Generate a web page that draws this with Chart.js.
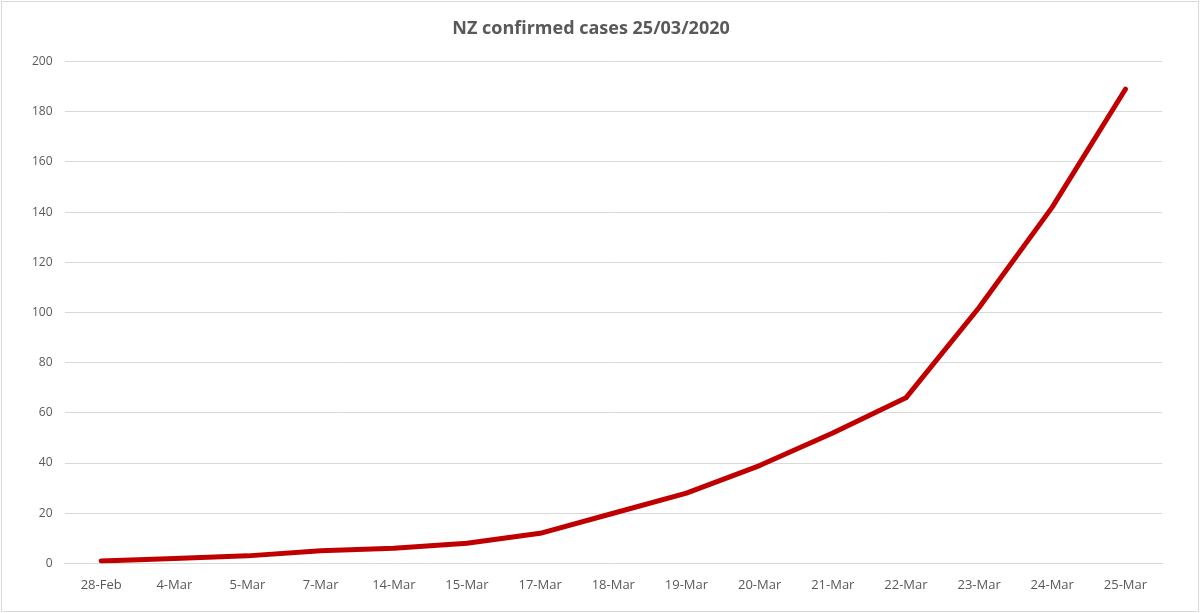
<!DOCTYPE html>
<html>
<head>
<meta charset="utf-8">
<script src="https://cdn.jsdelivr.net/npm/chart.js@4/dist/chart.umd.min.js"></script>
<style>
  html, body { margin: 0; padding: 0; background: #fff; }
  #wrap { position: absolute; left: 1px; top: 1px; width: 1196px; height: 609px; border: 1px solid #d9d9d9; }
</style>
</head>
<body>
<div id="wrap"><canvas id="c"></canvas></div>
<script>
const dates = ["28-Feb", "4-Mar", "5-Mar", "7-Mar", "14-Mar", "15-Mar", "17-Mar", "18-Mar",
               "19-Mar", "20-Mar", "21-Mar", "22-Mar", "23-Mar", "24-Mar", "25-Mar"];
const cases = [1, 2, 3, 5, 6, 8, 12, 20, 28, 39, 52, 66, 102, 142, 189];

const textColor = "#595959";

new Chart(document.getElementById("c"), {
    type: "line",
    data: {
        labels: dates,
        datasets: [{
            data: cases,
            borderColor: "#c00000",
            borderWidth: 5,
            pointRadius: 0,
            tension: 0,
            borderCapStyle: "round",
            borderJoinStyle: "round",
        }]
    },
    options: {
        responsive: true,
        maintainAspectRatio: false,
        animation: false,
        layout: { padding: { left: 18, right: 36, top: 10, bottom: 12 } },
        plugins: {
            legend: { display: false },
            tooltip: { enabled: false },
            title: {
                display: true,
                text: "NZ confirmed cases 25/03/2020",
                color: textColor,
                font: { family: "Open Sans", size: 18, weight: "bold" },
                padding: { top: 6, bottom: 22 },
            },
        },
        scales: {
            x: {
                offset: true,
                grid: { display: false },
                border: { color: "#d9d9d9" },
                ticks: { color: textColor, font: { family: "Open Sans", size: 13 }, maxRotation: 0, padding: 6 },
            },
            y: {
                min: 0,
                max: 200,
                ticks: { stepSize: 20, color: textColor, font: { family: "Open Sans", size: 12 }, padding: 12 },
                grid: { color: "#d9d9d9", drawTicks: false },
                border: { display: false },
            }
        }
    }
});
</script>
</body>
</html>
